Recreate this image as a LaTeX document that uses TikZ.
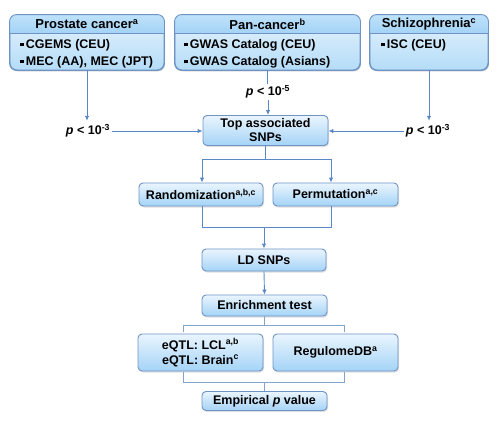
\documentclass[tikz,border=0pt]{standalone}
\usepackage{fontspec}
\setmainfont{Liberation Sans}
\usepackage{tikz}
\usetikzlibrary{arrows.meta,shadows}
\definecolor{boxline}{HTML}{6E93C4}
\definecolor{arrowblue}{HTML}{5A88C6}
\definecolor{bracketblue}{HTML}{86A3CC}
\definecolor{boxtop}{HTML}{EAF5FE}
\definecolor{boxbot}{HTML}{A4D3F6}
\definecolor{srctop}{HTML}{E6F3FD}
\definecolor{srcbot}{HTML}{B4DCF8}
\definecolor{hdrtop}{HTML}{BFE2FA}
\definecolor{hdrbot}{HTML}{A3D3F6}
\def\sqb{\rule[0.15em]{0.28em}{0.28em}\hspace{0.18em}}
\def\headfill(#1)(#2){\begin{scope}
		\clip[rounded corners=7pt] (#1.north west) rectangle (#1.south east);
		\shade[top color=hdrtop, bottom color=hdrbot] (#1.north west) rectangle (#1.east |- 0,#2);
	\end{scope}
	\draw[boxline, line width=0.9pt] (#1.west |- 0,#2) -- (#1.east |- 0,#2);
	\draw[boxline, line width=0.9pt, rounded corners=7pt] (#1.north west) rectangle (#1.south east);}
\tikzset{
	flowbox/.style={draw=boxline, line width=0.9pt, rounded corners=4pt, top color=boxtop, bottom color=boxbot,
		drop shadow={opacity=0.25, shadow xshift=1pt, shadow yshift=-1.5pt},
		font=\fontsize{12.5}{14}\selectfont\bfseries, align=center, inner sep=0pt},
	srcbox/.style={flowbox, rounded corners=7pt, top color=srctop, bottom color=srcbot},
	hdrtext/.style={font=\fontsize{13}{15}\selectfont\bfseries, inner sep=0pt},
	listtext/.style={font=\fontsize{12.5}{17}\selectfont\bfseries, align=left, inner sep=0pt},
	plabel/.style={font=\fontsize{12.5}{15}\selectfont\bfseries, inner sep=1.5pt},
	flow/.style={draw=arrowblue, line width=0.9pt, -{Latex[length=5pt,width=4.5pt]}},
	link/.style={draw=arrowblue, line width=0.9pt},
	bracket/.style={draw=bracketblue, line width=0.7pt},
}

\begin{document}
\begin{tikzpicture}[x=1pt, y=-1pt]
		%%%%% START %%%%%
		\useasboundingbox (0,0) rectangle (500,423);
		
		\node[srcbox, minimum width=154, minimum height=55] (prostate) at (87,42.5) {};
		\headfill(prostate)(33)
		\node[hdrtext] (prostateT) at (87,24) {Prostate cancer\textsuperscript{a}};
		\node[listtext, anchor=west] (prostateL) at (20,53.5) {\sqb CGEMS (CEU)\\ \sqb MEC (AA), MEC (JPT)};
		
		\node[srcbox, minimum width=185, minimum height=55] (pancancer) at (267.5,42.5) {};
		\headfill(pancancer)(33)
		\node[hdrtext] (pancancerT) at (267.5,24) {Pan-cancer\textsuperscript{b}};
		\node[listtext, anchor=west] (pancancerL) at (184,53.5) {\sqb GWAS Catalog (CEU)\\ \sqb GWAS Catalog (Asians)};
		
		\node[srcbox, minimum width=118, minimum height=55] (schizo) at (429,42.5) {};
		\headfill(schizo)(33)
		\node[hdrtext] (schizoT) at (429,24) {Schizophrenia\textsuperscript{c}};
		\node[listtext, anchor=west] (schizoL) at (381,45) {\sqb ISC (CEU)};
		
		\node[plabel] (p1) at (88,131) {\textit{p} < 10\textsuperscript{-3}};
		\node[plabel] (p2) at (268,92) {\textit{p} < 10\textsuperscript{-5}};
		\node[plabel] (p3) at (428,131) {\textit{p} < 10\textsuperscript{-3}};
		
		\node[flowbox, minimum width=125, minimum height=30] (top) at (265.5,130.5) {Top associated\\SNPs};
		\node[flowbox, minimum width=124, minimum height=23] (rand) at (201,194.5) {Randomization\textsuperscript{a,b,c}};
		\node[flowbox, minimum width=125, minimum height=23] (perm) at (335.5,194.5) {Permutation\textsuperscript{a,c}};
		\node[flowbox, minimum width=124, minimum height=22] (ld) at (264,260) {LD SNPs};
		\node[flowbox, minimum width=125, minimum height=21] (enrich) at (264.5,305.5) {Enrichment test};
		\node[flowbox, minimum width=125, minimum height=37, font=\fontsize{12.5}{15}\selectfont\bfseries] (eqtl) at (200.5,352.5) {eQTL: LCL\textsuperscript{a,b}\\eQTL: Brain\textsuperscript{c}};
		\node[flowbox, minimum width=125, minimum height=37] (regulome) at (335.5,352.5) {RegulomeDB\textsuperscript{a}};
		\node[flowbox, minimum width=125, minimum height=19] (empirical) at (264.5,401) {Empirical \textit{p} value};
		
		\coordinate (splitL) at (202,159);
		\coordinate (splitR) at (331,159);
		\coordinate (mergeL) at (202,227);
		\coordinate (mergeR) at (331,227);
		\coordinate (upL) at (183,325);
		\coordinate (upR) at (344,325);
		\coordinate (loL) at (183,382);
		\coordinate (loR) at (344,382);
		
		\draw[flow, shorten >=2pt] (prostate.south) -- (prostate.south |- p1.north);
		\draw[flow] (p1.east) -- (p1.east -| top.west);
		\draw[link] (pancancer.south) -- (pancancer.south |- p2.north);
		\draw[flow] (p2.south) -- (p2.south |- top.north);
		\draw[flow, shorten >=2pt] (schizo.south) -- (schizo.south |- p3.north);
		\draw[flow] (p3.west) -- (p3.west -| top.east);
		
		\draw[link] (top.south) -- (top.south |- splitL);
		\draw[flow] (top.south |- splitL) -| (splitL |- rand.north);
		\draw[flow] (top.south |- splitR) -| (splitR |- perm.north);
		\draw[link] (splitL |- rand.south) |- (mergeR) -- (mergeR |- perm.south);
		\draw[flow] (ld.north |- mergeL) -- (ld.north);
		\draw[flow] (ld.south) -- (enrich.north);
		
		\draw[bracket] (enrich.south) -- (enrich.south |- upL);
		\draw[bracket] ([yshift=-7pt]upL) -- (upL) -- (upR) -- ([yshift=-7pt]upR);
		\draw[bracket] ([yshift=10pt]loL) -- (loL) -- (loR) -- ([yshift=10pt]loR);
		\draw[bracket] (empirical.north |- loL) -- (empirical.north);
		
		%%%%% END %%%%%
	\end{tikzpicture}
\end{document}
